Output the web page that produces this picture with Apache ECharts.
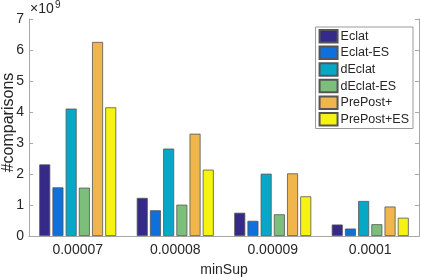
<!DOCTYPE html>
<html><head><meta charset="utf-8">
<script src="https://cdn.jsdelivr.net/npm/echarts@6/dist/echarts.min.js"></script>
<style>html,body{margin:0;padding:0;background:#fff}#c{width:421px;height:277px}</style>
</head><body><div id="c"></div>
<script>
const categories = ['0.00007', '0.00008', '0.00009', '0.0001'];
const seriesNames = ['Eclat', 'Eclat-ES', 'dEclat', 'dEclat-ES', 'PrePost+', 'PrePost+ES'];
const eclat = [2.31, 1.23, 0.75, 0.37];
const eclatES = [1.57, 0.83, 0.49, 0.24];
const dEclat = [4.11, 2.82, 2.01, 1.13];
const dEclatES = [1.56, 1.01, 0.70, 0.38];
const prePost = [6.26, 3.30, 2.02, 0.95];
const prePostES = [4.15, 2.14, 1.28, 0.59];
const yTicks = [0, 1, 2, 3, 4, 5, 6, 7];
const colors = ['#352a87', '#0f6fdb', '#07a8c6', '#7bbf7a', '#f0b64c', '#f6f312'];
const values = [eclat, eclatES, dEclat, dEclatES, prePost, prePostES];

const axisGray = '#a8a8a8';
const textCol = '#262626';
const font = 'Liberation Sans, Arial, Helvetica, sans-serif';

const chart = echarts.init(document.getElementById('c'), null, {renderer: 'canvas'});
chart.setOption({
  animation: false,
  grid: {left: 29, right: 2, top: 19, bottom: 41, containLabel: false, outerBoundsMode: 'none'},
  legend: {
    orient: 'vertical', right: 8, top: 27,
    icon: 'rect',
    itemWidth: 18, itemHeight: 12.5, itemGap: 2.1,
    padding: [2, 4, 2, 3],
    borderColor: '#9a9a9a', borderWidth: 1, backgroundColor: '#fff',
    textStyle: {color: textCol, fontSize: 12.5, lineHeight: 12.5, fontFamily: font, padding: [0, 0, 0, -2]},
    data: seriesNames
  },
  xAxis: [{
    type: 'category', data: categories, position: 'bottom',
    name: 'minSup', nameLocation: 'middle', nameGap: 27, nameMoveOverlap: false,
    nameTextStyle: {color: textCol, fontSize: 14, fontFamily: font},
    axisLine: {lineStyle: {color: axisGray, width: 1}},
    axisTick: {inside: true, alignWithLabel: true, length: 4, lineStyle: {color: axisGray}},
    axisLabel: {color: textCol, fontSize: 14, fontFamily: font, margin: 7}
  }, {
    type: 'category', data: categories, position: 'top',
    axisLine: {lineStyle: {color: axisGray, width: 1}},
    axisTick: {inside: true, alignWithLabel: true, length: 4, lineStyle: {color: axisGray}},
    axisLabel: {show: false}
  }],
  yAxis: [{
    type: 'value', min: yTicks[0], max: yTicks[yTicks.length - 1], interval: 1,
    name: '#comparisons', nameLocation: 'middle', nameGap: 12, nameRotate: 90, nameMoveOverlap: false,
    nameTextStyle: {color: textCol, fontSize: 16, fontFamily: font, padding: [0, 0, 0, 10]},
    axisLine: {show: true, lineStyle: {color: axisGray, width: 1}},
    axisTick: {show: true, inside: true, length: 4, lineStyle: {color: axisGray}},
    axisLabel: {color: textCol, fontSize: 14, fontFamily: font, margin: 5},
    splitLine: {show: false}
  }, {
    type: 'value', min: yTicks[0], max: yTicks[yTicks.length - 1], interval: 1, position: 'right',
    axisLine: {show: true, lineStyle: {color: axisGray, width: 1}},
    axisTick: {show: true, inside: true, length: 4, lineStyle: {color: axisGray}},
    axisLabel: {show: false},
    splitLine: {show: false}
  }],
  series: seriesNames.map((n, i) => ({
    name: n, type: 'bar', data: values[i], xAxisIndex: 0, yAxisIndex: 0,
    barWidth: 11, barGap: '20%',
    itemStyle: {color: colors[i], borderColor: '#555', borderWidth: 0.8}
  })),
  graphic: [
    {type: 'text', left: 30, top: 2, style: {text: '×10', fill: textCol, font: '14px Liberation Sans, Arial, sans-serif'}},
    {type: 'text', left: 55, top: 0, style: {text: '9', fill: textCol, font: '10px Liberation Sans, Arial, sans-serif'}}
  ]
});
</script></body></html>
